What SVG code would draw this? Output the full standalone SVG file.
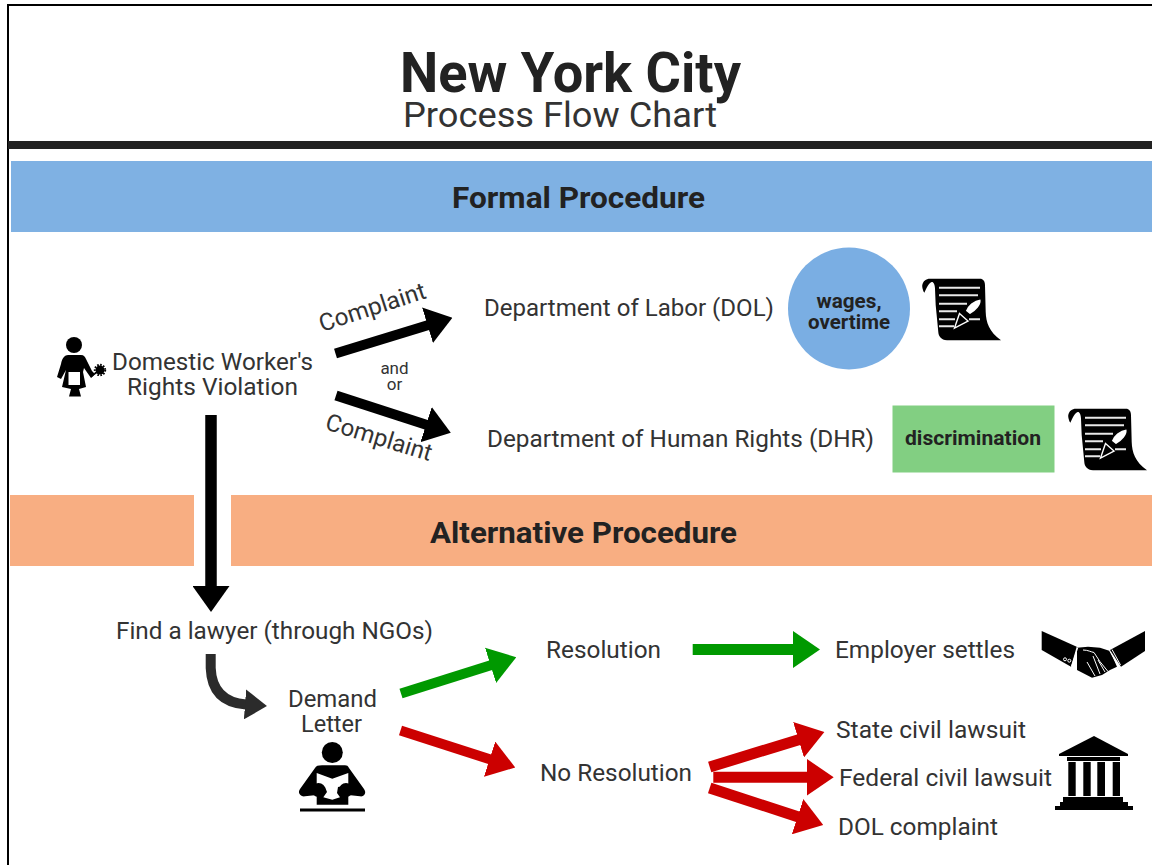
<svg xmlns="http://www.w3.org/2000/svg" xmlns:xlink="http://www.w3.org/1999/xlink" width="1152" height="865" viewBox="0 0 1152 865">
<style>
text{font-family:Roboto,"Liberation Sans",sans-serif;fill:#333;font-size:24px}
.b{font-weight:700;fill:#222}
.m{text-anchor:middle}
.a{fill:none;stroke-linecap:butt}
.k{stroke:#000;stroke-width:10}
.g{stroke:#009900;stroke-width:10}
.r{stroke:#cc0000;stroke-width:11}
.i{fill:#000}
.w{fill:#fff}
.l{stroke:#e8e8e8;stroke-width:2;fill:none}
.t{stroke:#fff;stroke-width:1;fill:none}
</style>
<defs>
<marker id="hk" markerUnits="userSpaceOnUse" markerWidth="26" markerHeight="37" viewBox="0 0 26 37" refX="1" refY="18.5" orient="auto"><path d="M0,0L26,18.5L0,37z" fill="#000"/></marker>
<marker id="hg" markerUnits="userSpaceOnUse" markerWidth="27" markerHeight="37" viewBox="0 0 27 37" refX="1" refY="18.5" orient="auto"><path d="M0,0L27,18.5L0,37z" fill="#009900"/></marker>
<marker id="hr" markerUnits="userSpaceOnUse" markerWidth="27" markerHeight="37" viewBox="0 0 27 37" refX="1" refY="18.5" orient="auto"><path d="M0,0L27,18.5L0,37z" fill="#cc0000"/></marker>
<marker id="hd" markerUnits="userSpaceOnUse" markerWidth="22" markerHeight="30" viewBox="0 0 22 30" refX="1" refY="15" orient="auto"><path d="M0,0L22,15L0,30z" fill="#2b2b2b"/></marker>
<g id="scroll">
<path class="i" d="M8,0.7H58C61,0.7 63,3 63,7.3L63.7,34C64,44 67,54 79,62.3H25C19,62 16.5,58 16.3,54L13.7,27.3L13,10.7C13,6 11,3.5 9.7,4C7,5 5,9 2.3,14.7C0.5,12 0,8 0.3,7C1,3 4,0.7 8,0.7z"/>
<path class="l" d="M17,9.7H58M17,17.3H56M17,25.7H45M17,33.3H35M17,41.3H33M47,41.3H58M17,48.3H32"/>
<path class="w" stroke="#000" stroke-width="1.5" d="M59,20.5C61,27 54,34 48,37L43,33C45,27 51,21.5 59,20.5z"/>
<path class="i" stroke="#fff" stroke-width="1.4" d="M37.5,35.5L46,43L32.5,50z"/>
</g>
</defs>
<rect width="1152" height="865" fill="#fff"/>
<path d="M8,865V5H1152" fill="none" stroke="#000" stroke-width="2"/>
<rect x="8" y="141" width="1144" height="8" fill="#222"/>
<rect x="11" y="161" width="1141" height="71" fill="#7fb1e3"/>
<rect x="10" y="495" width="184" height="71" fill="#f8ae82"/>
<rect x="231" y="495" width="921" height="71" fill="#f8ae82"/>
<text id="title" class="b" x="400" y="92" style="font-size:55px" textLength="341" lengthAdjust="spacingAndGlyphs">New York City</text>
<text id="subtitle" x="403" y="127" style="font-size:35px" textLength="314" lengthAdjust="spacingAndGlyphs">Process Flow Chart</text>
<text id="formal" class="b" x="452" y="208" style="font-size:30px" textLength="253" lengthAdjust="spacingAndGlyphs">Formal Procedure</text>
<text id="alternative" class="b" x="430" y="543" style="font-size:30px" textLength="307" lengthAdjust="spacingAndGlyphs">Alternative Procedure</text>

<g id="connectors">
<line class="a k" x1="335.5" y1="353.5" x2="428.5" y2="325" marker-end="url(#hk)"/>
<line class="a k" x1="336" y1="395.5" x2="427" y2="425" marker-end="url(#hk)"/>
<line class="a k" style="stroke-width:11.5" x1="211" y1="415" x2="211" y2="587" marker-end="url(#hk)"/>
<path class="a" stroke="#2b2b2b" stroke-width="10" d="M210.7,654V668Q212,702 246,704.5" marker-end="url(#hd)"/>
<line class="a g" x1="401" y1="693.5" x2="491.5" y2="665" marker-end="url(#hg)"/>
<line class="a r" style="stroke-width:10" x1="400.5" y1="730.5" x2="490.5" y2="759.5" marker-end="url(#hr)"/>
<line class="a g" style="stroke-width:11" x1="692.7" y1="649.5" x2="794" y2="649.5" marker-end="url(#hg)"/>
<line class="a r" x1="709.7" y1="767" x2="799.5" y2="739.5" marker-end="url(#hr)"/>
<line class="a r" x1="713.3" y1="777.3" x2="807.7" y2="777.3" marker-end="url(#hr)"/>
<line class="a r" x1="709.7" y1="788" x2="798.5" y2="817" marker-end="url(#hr)"/>
</g>

<g id="complaint-labels">
<text transform="translate(322,332) rotate(-18)" textLength="111" lengthAdjust="spacingAndGlyphs">Complaint</text>
<text transform="translate(324,429) rotate(17)" textLength="110" lengthAdjust="spacingAndGlyphs">Complaint</text>
<text class="m" x="394.5" y="374" style="font-size:17px">and</text>
<text class="m" x="394.5" y="390" style="font-size:17px">or</text>
</g>

<g id="node-worker">
<circle class="i" cx="74" cy="345" r="8"/>
<path class="i" d="M68,355H81C84,355 85,357 86,359L92,371L95,374L91,378L84,368L83,372L86,387L79,389L81,396.5H69L71,389L62,387L66,370L61,379L57,377L61,364C62,358 65,355 68,355z"/>
<rect class="w" x="68.5" y="372" width="11.5" height="13"/>
<path d="M91,377L98,371" stroke="#000" stroke-width="1.5"/>
<circle class="i" cx="100" cy="370" r="4.5"/>
<circle cx="100" cy="370" r="5.2" fill="none" stroke="#000" stroke-width="2" stroke-dasharray="1.6 1.4"/>
<text x="112" y="370" textLength="201" lengthAdjust="spacingAndGlyphs">Domestic Worker's</text>
<text x="127" y="395" textLength="171" lengthAdjust="spacingAndGlyphs">Rights Violation</text>
</g>

<g id="node-dol">
<text x="484" y="316" textLength="290" lengthAdjust="spacingAndGlyphs">Department of Labor (DOL)</text>
</g>
<g id="node-wages">
<circle cx="849" cy="308.5" r="61" fill="#7aaee3"/>
<text class="b" x="816.5" y="308" style="font-size:20px" textLength="65" lengthAdjust="spacingAndGlyphs">wages,</text>
<text class="b" x="808" y="329" style="font-size:20px" textLength="82" lengthAdjust="spacingAndGlyphs">overtime</text>
</g>
<use id="scroll-dol" href="#scroll" xlink:href="#scroll" x="922" y="278"/>

<g id="node-dhr">
<text x="487" y="447" textLength="387" lengthAdjust="spacingAndGlyphs">Department of Human Rights (DHR)</text>
</g>
<g id="node-discrimination">
<rect x="892.5" y="405.5" width="162" height="67" fill="#82cf82"/>
<text class="b" x="905" y="445" style="font-size:21px" textLength="136" lengthAdjust="spacingAndGlyphs">discrimination</text>
</g>
<use id="scroll-dhr" href="#scroll" xlink:href="#scroll" x="1068" y="408"/>

<g id="node-lawyer">
<text x="116" y="639" textLength="317" lengthAdjust="spacingAndGlyphs">Find a lawyer (through NGOs)</text>
</g>
<g id="node-demand">
<text x="288" y="707" textLength="89" lengthAdjust="spacingAndGlyphs">Demand</text>
<text x="301" y="732" textLength="61" lengthAdjust="spacingAndGlyphs">Letter</text>
<circle class="i" cx="332.3" cy="752.5" r="10.5"/>
<path class="i" d="M322,765.3H345C347,765.3 348,766 349,768L364,789C367,793 364,797 360,796.3L348.3,795V804.7H316.7V795L305,796.3C301,797 297,793 300,789L315,768C316,766 318,765.3 322,765.3z"/>
<path class="w" d="M316.7,773L332.3,778.7L348.3,773V785L338,787L337,793L340,797.3L332.3,799.7L323.3,797.3L327,792L325,787L316.7,785z"/>
<circle class="i" cx="318.5" cy="790" r="7"/>
<circle class="i" cx="346" cy="790" r="7"/>
<rect class="i" x="300" y="808.5" width="65" height="3"/>
</g>
<g id="node-resolution">
<text x="546" y="658" textLength="115" lengthAdjust="spacingAndGlyphs">Resolution</text>
</g>
<g id="node-settles">
<text x="835" y="658" textLength="180" lengthAdjust="spacingAndGlyphs">Employer settles</text>
<path class="i" d="M1041.7,631L1076.7,646.7L1071,666.7L1041.7,650z"/>
<path class="i" d="M1145,631V651L1121,666.7L1110,650z"/>
<path class="i" d="M1077,647.7L1088,646.7L1100,647.7L1110,651L1117,666.7L1110,670L1102,675L1092,677.7L1077,670z"/>
<path class="t" d="M1077.7,648L1071.5,666M1109.5,650.5L1118,666M1112,649.5L1120.5,665M1083,650C1088,650 1091,652 1094,652.5L1100,661.7L1108,671.5M1093,656L1100,674M1087,662L1095,676M1098,660L1105,672"/>
<circle class="t" cx="1065" cy="659.3" r="1.5"/>
<circle class="t" cx="1069.3" cy="660.7" r="1.5"/>
</g>
<g id="node-noresolution">
<text x="540" y="781" textLength="152" lengthAdjust="spacingAndGlyphs">No Resolution</text>
</g>
<g id="node-state"><text x="836" y="738" textLength="190" lengthAdjust="spacingAndGlyphs">State civil lawsuit</text></g>
<g id="node-federal"><text x="839" y="786" textLength="213" lengthAdjust="spacingAndGlyphs">Federal civil lawsuit</text></g>
<g id="node-dolcomplaint"><text x="838" y="835" textLength="160" lengthAdjust="spacingAndGlyphs">DOL complaint</text></g>
<g id="icon-court" class="i">
<path d="M1094,736L1128,754V756H1059V754z"/>
<rect x="1067" y="757" width="53" height="4"/>
<rect x="1068.3" y="762" width="7.4" height="34"/>
<rect x="1083.3" y="762" width="7.4" height="34"/>
<rect x="1097.3" y="762" width="7.7" height="34"/>
<rect x="1112.7" y="762" width="7.3" height="34"/>
<rect x="1063" y="797" width="60" height="5"/>
<rect x="1060" y="802" width="68" height="4"/>
<rect x="1055" y="806" width="78" height="4"/>
</g>
</svg>
